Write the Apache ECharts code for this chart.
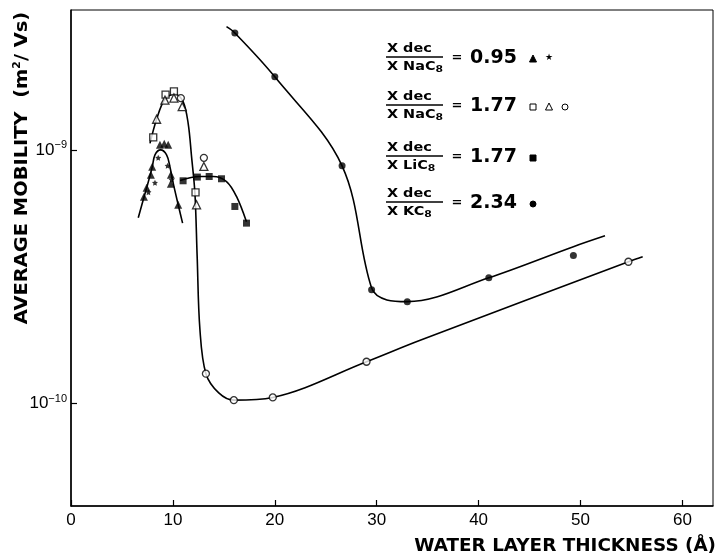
<!DOCTYPE html>
<html>
<head>
<meta charset="utf-8">
<script src="https://cdn.jsdelivr.net/npm/echarts@6/dist/echarts.min.js"></script>
<style>
  html, body { margin: 0; padding: 0; background: #fff; }
  #chart { width: 718px; height: 557px; }
</style>
</head>
<body>
<div id="chart"></div>
<script>
// ---- data (x = water layer thickness in Å, y = average mobility in m2/Vs) ----
const xTicks = [0, 10, 20, 30, 40, 50, 60];
const yTickValues = [1e-10, 1e-9];

// X dec / X NaC8 = 0.95
const naLowTriangles = [[7.16, 6.53e-10], [7.42, 7.09e-10], [7.84, 7.97e-10], [7.97, 8.57e-10],
  [8.73, 1.047e-9], [9.15, 1.056e-9], [9.54, 1.047e-9], [9.8, 7.97e-10], [9.8, 7.35e-10], [10.52, 6.07e-10]];
const naLowStars = [[8.56, 9.3e-10], [9.48, 8.65e-10], [8.24, 7.42e-10], [9.87, 7.62e-10], [7.6, 6.8e-10]];
const naLowCurve = [[6.6, 5.4e-10], [7.16, 6.5e-10], [7.42, 7.07e-10], [7.97, 8.55e-10], [8.24, 9.56e-10],
  [8.79, 1.0e-9], [9.38, 9.56e-10], [9.7, 8.6e-10], [10.03, 7.39e-10], [10.52, 6.07e-10], [10.95, 5.14e-10]];

// X dec / X NaC8 = 1.77
const naHighSquares = [[8.07, 1.12e-9], [9.28, 1.65e-9], [10.1, 1.70e-9], [12.22, 6.79e-10]];
const naHighTriangles = [[8.4, 1.32e-9], [9.22, 1.57e-9], [10.1, 1.60e-9], [10.91, 1.48e-9], [12.32, 6.07e-10], [13.04, 8.6e-10]];
const naHighCircles = [[10.78, 1.6e-9], [13.04, 9.3e-10], [13.24, 1.31e-10], [15.98, 1.03e-10],
  [19.8, 1.056e-10], [29.0, 1.46e-10], [54.7, 3.62e-10]];
const naHighCurve = [[7.75, 1.06e-9], [8.4, 1.32e-9], [9.2, 1.58e-9], [10.2, 1.66e-9], [11.0, 1.55e-9],
  [11.5, 1.27e-9], [11.83, 9.4e-10], [12.16, 6.75e-10], [12.38, 3.8e-10], [12.65, 1.96e-10],
  [13.24, 1.31e-10], [14.5, 1.1e-10], [15.98, 1.03e-10], [19.8, 1.056e-10], [29.0, 1.46e-10],
  [34.2, 1.77e-10], [54.7, 3.62e-10], [56.1, 3.79e-10]];

// X dec / X LiC8 = 1.77
const liSquares = [[11.0, 7.55e-10], [12.4, 7.81e-10], [13.56, 7.85e-10], [14.77, 7.69e-10], [16.08, 5.98e-10], [17.22, 5.14e-10]];
const liCurve = [[10.7, 7.57e-10], [12.6, 7.85e-10], [13.95, 7.85e-10], [15.26, 7.5e-10], [16.24, 6.55e-10], [17.22, 5.2e-10]];

// X dec / X KC8 = 2.34
const kDots = [[16.08, 2.89e-9], [20.0, 1.94e-9], [26.6, 8.65e-10], [29.5, 2.81e-10], [33.0, 2.52e-10], [41.0, 3.13e-10], [49.3, 3.83e-10]];
const kCurve = [[15.26, 3.06e-9], [16.08, 2.89e-9], [20.0, 1.94e-9], [26.6, 8.65e-10],
  [29.5, 2.85e-10], [31.0, 2.56e-10], [33.0, 2.52e-10], [41.0, 3.13e-10], [49.3, 4.15e-10], [52.4, 4.58e-10]];

const FONT = '"Liberation Sans", Arial, sans-serif';
const WIDE = '"DejaVu Sans", sans-serif';
const STAR = 'path://M0,-10L2.9,-4L9.5,-3.1L4.7,1.5L5.9,8.1L0,5L-5.9,8.1L-4.7,1.5L-9.5,-3.1L-2.9,-4Z';

function curve(data) {
  return {
    type: 'line', data: data, smooth: 0.35, showSymbol: false, silent: true,
    lineStyle: { color: '#000', width: 1.6 }, z: 2
  };
}
function marks(data, symbol, size, filled) {
  return {
    type: 'scatter', data: data, symbol: symbol, symbolSize: size, z: 3,
    itemStyle: { color: filled ? '#000' : '#fff', borderColor: '#000', borderWidth: filled ? 0 : 1.3 }
  };
}

// legend rows drawn as graphic text
const legendRows = [
  { y: 57, den: 'X NaC{s|8}', val: '0.95', syms: ['tri', 'star'] },
  { y: 105, den: 'X NaC{s|8}', val: '1.77', syms: ['osq', 'otri', 'ocirc'] },
  { y: 156, den: 'X LiC{s|8}', val: '1.77', syms: ['sq'] },
  { y: 202, den: 'X KC{s|8}', val: '2.34', syms: ['dot'] }
];
const graphics = [];
legendRows.forEach(r => {
  graphics.push({ type: 'text', x: 387, y: r.y - 2, scaleX: 1.2, style: {
    text: 'X dec', font: 'bold 12px ' + WIDE, fill: '#000', verticalAlign: 'bottom' } });
  graphics.push({ type: 'line', shape: { x1: 386, y1: r.y, x2: 443, y2: r.y }, style: { stroke: '#000', lineWidth: 1.5 } });
  graphics.push({ type: 'text', x: 387, y: r.y + 2, scaleX: 1.2, style: {
    text: r.den, font: 'bold 12px ' + WIDE, fill: '#000', verticalAlign: 'top',
    rich: { s: { font: 'bold 9px ' + WIDE, padding: [6, 0, 0, 0] } } } });
  graphics.push({ type: 'text', x: 457, y: r.y + 1, style: {
    text: '=', font: 'bold 13px ' + WIDE, fill: '#000', align: 'center', verticalAlign: 'middle' } });
  graphics.push({ type: 'text', x: 470, y: r.y + 1, style: { text: r.val, font: 'bold 19px ' + WIDE, fill: '#000', verticalAlign: 'middle' } });
  r.syms.forEach((s, i) => {
    const cx = 533 + i * 16, cy = r.y + 2;
    if (s === 'tri' || s === 'otri') {
      graphics.push({ type: 'polygon', shape: { points: [[cx, cy - 4], [cx - 3.5, cy + 3], [cx + 3.5, cy + 3]] },
        style: { fill: s === 'tri' ? '#000' : '#fff', stroke: '#000', lineWidth: 1 } });
    } else if (s === 'star') {
      graphics.push({ type: 'text', left: cx - 4, top: cy - 6, style: { text: '★', font: '9px "DejaVu Sans"', fill: '#000' } });
    } else if (s === 'osq' || s === 'sq') {
      graphics.push({ type: 'rect', shape: { x: cx - 3, y: cy - 3, width: 6, height: 6 },
        style: { fill: s === 'sq' ? '#000' : '#fff', stroke: '#000', lineWidth: 1 } });
    } else {
      graphics.push({ type: 'circle', shape: { cx: cx, cy: cy, r: 3 },
        style: { fill: s === 'dot' ? '#000' : '#fff', stroke: '#000', lineWidth: 1 } });
    }
  });
});
// axis names
graphics.push({ type: 'text', x: 716, y: 547, scaleX: 1.08, style: {
  text: 'WATER LAYER THICKNESS (Å)', font: 'bold 17px ' + WIDE, fill: '#000',
  align: 'right', verticalAlign: 'middle' } });
graphics.push({ type: 'text', x: 22, y: 168, rotation: Math.PI / 2, scaleX: 1.08, style: {
  text: 'AVERAGE MOBILITY  (m{s|2}/ Vs)', font: 'bold 18px ' + WIDE, fill: '#000',
  align: 'center', verticalAlign: 'middle',
  rich: { s: { font: 'bold 10px ' + WIDE, padding: [0, 0, 9, 0] } } } });

const chart = echarts.init(document.getElementById('chart'));
chart.setOption({
  animation: false,
  backgroundColor: '#fff',
  grid: { left: 71, right: 5, top: 10, bottom: 51, show: true, borderColor: '#000', borderWidth: 1 },
  xAxis: {
    type: 'value', min: 0, max: 63, interval: 10,
    axisLine: { lineStyle: { color: '#000', width: 1.5 } },
    axisTick: { inside: true, length: 6, lineStyle: { color: '#000', width: 1.2 }, customValues: xTicks },
    axisLabel: { color: '#000', fontFamily: FONT, fontSize: 17, margin: 6, customValues: xTicks },
    splitLine: { show: false }
  },
  yAxis: {
    type: 'log', logBase: 10, min: 3.94e-11, max: 3.56e-9,
    axisLine: { lineStyle: { color: '#000', width: 1.5 } },
    axisTick: { inside: true, length: 6, lineStyle: { color: '#000', width: 1.2 }, customValues: yTickValues },
    axisLabel: {
      color: '#000', fontFamily: FONT, fontSize: 17, margin: 4, customValues: yTickValues,
      formatter: v => {
        const e = Math.round(Math.log10(v));
        if (Math.abs(Math.log10(v) - e) > 1e-6) return '';
        return '10{s|−' + Math.abs(e) + '}';
      },
      rich: { s: { fontFamily: FONT, fontSize: 11, padding: [0, 0, 9, 0] } }
    },
    splitLine: { show: false }
  },
  graphic: graphics,
  series: [
    curve(naLowCurve),
    curve(naHighCurve),
    curve(liCurve),
    curve(kCurve),
    marks(naLowTriangles, 'triangle', 8, true),
    marks(naLowStars, STAR, 6, true),
    marks(naHighSquares, 'rect', 7, false),
    marks(naHighTriangles, 'triangle', 8, false),
    marks(naHighCircles, 'circle', 7, false),
    marks(liSquares, 'rect', 7, true),
    marks(kDots, 'circle', 7, true)
  ]
});
</script>
</body>
</html>
